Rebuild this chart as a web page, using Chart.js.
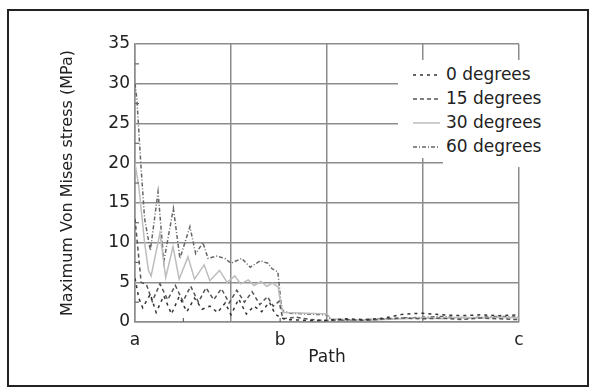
<!DOCTYPE html>
<html>
<head>
<meta charset="utf-8">
<script src="https://cdn.jsdelivr.net/npm/chart.js@4.4.1/dist/chart.umd.min.js"></script>
<style>
    body { margin: 0; background: #fff; }
    #wrap { position: relative; width: 594px; height: 392px; }
    #frame { position: absolute; left: 7px; top: 9px; width: 578px; height: 374px; border: 2px solid #222; }
    canvas { position: absolute; left: 0; top: 0; }
    .cache { position: absolute; background: #fff; }
    #legende { position: absolute; left: 413px; top: 62px; font-family: "DejaVu Sans", sans-serif; font-size: 17px; color: #222; }
    .ligne { height: 24px; line-height: 24px; white-space: nowrap; }
    .ligne svg { vertical-align: middle; margin-right: 6px; }
</style>
</head>
<body>
<div id="wrap">
    <canvas id="graph" width="594" height="392"></canvas>
    <div id="frame"></div>
    <div class="cache" style="left:398px; top:60px; width:172px; height:98px;"></div>
    <div class="cache" style="left:443px; top:150px; width:127px; height:17px;"></div>
    <div id="legende"></div>
</div>
<script>
// ===== DONNÉES =====
// Abscisse : chemin a -> b -> c, ramené de 0 à 100
var xTicks = [0, 25, 37.8, 50, 75, 100];
var xLabels = { 0: 'a', 37.8: 'b', 100: 'c' };
var yTicks = [0, 5, 10, 15, 20, 25, 30, 35];

var seriesNames = ['0 degrees', '15 degrees', '30 degrees', '60 degrees'];

var deg0X = [0, 1, 2, 4, 5.5, 7.5, 9.5, 11.5, 13.5, 15.5, 17.5, 19.5, 21.5, 23.5, 25, 27, 29, 31, 33, 35, 36.5, 38, 40, 45, 50, 55, 60, 65, 70, 75, 80, 85, 90, 95, 100];
var deg0Y = [5.5, 3, 1.8, 3.5, 1.2, 3.3, 1.0, 3.2, 1.3, 3.0, 1.6, 2.0, 1.2, 2.4, 0.9, 2.9, 1.0, 2.0, 1.3, 2.5, 1.0, 0.5, 0.3, 0.2, 0.2, 0.4, 0.3, 0.5, 1.0, 1.1, 0.9, 0.8, 0.9, 0.8, 0.9];

var deg15X = [0, 0.8, 1.6, 3, 4.5, 6.5, 8.5, 10.5, 12.5, 14.5, 16.5, 18.5, 20.5, 22.5, 24.5, 26.5, 28.5, 30.5, 32.5, 34.5, 36, 37.5, 38.5, 42, 46, 50, 55, 60, 65, 70, 75, 80, 85, 90, 95, 100];
var deg15Y = [13, 9, 5, 4.7, 2.6, 4.8, 2.8, 4.6, 2.6, 4.5, 2.5, 4.3, 2.8, 4.2, 2.4, 4.0, 2.5, 3.8, 2.2, 3.2, 2.0, 2.6, 0.4, 0.6, 0.3, 0.2, 0.3, 0.2, 0.4, 0.5, 0.4, 0.5, 0.3, 0.5, 0.4, 0.3];

var deg30X = [0, 1, 2.5, 3.5, 4.2, 6.5, 8, 9.9, 11.5, 13.8, 15.5, 18, 19.5, 22, 24, 26, 27.5, 29.5, 31, 32.8, 34.3, 35.8, 37.3, 38, 38.6, 45, 50, 51, 55, 60, 65, 70, 75, 80, 85, 90, 95, 100];
var deg30Y = [20, 17, 10, 6.5, 5.8, 11.2, 5.6, 9.5, 5.4, 8.2, 5.4, 7.2, 5.2, 6.5, 5.0, 5.8, 4.8, 5.3, 4.6, 5.1, 4.5, 4.9, 4.4, 2.0, 1.2, 1.1, 1.0, 0.4, 0.3, 0.2, 0.3, 0.4, 0.5, 0.4, 0.6, 0.5, 0.6, 0.5];

var deg60X = [0, 0.5, 1.5, 2.5, 4, 6, 7.5, 10, 11.7, 14.3, 15.8, 17.7, 19, 21.4, 23.4, 25, 27.8, 30, 32.6, 34.6, 35.7, 37.2, 38, 38.5, 40.4, 45, 50, 51, 55, 60, 65, 70, 75, 80, 85, 90, 95, 100];
var deg60Y = [30, 28, 20, 13, 9, 16.4, 7.6, 14.3, 8, 12, 8.6, 10, 8, 8.3, 8, 7.4, 8, 6.9, 7.7, 7.4, 6.7, 6.3, 2.5, 1.4, 1.1, 1.0, 0.9, 0.3, 0.2, 0.3, 0.4, 0.5, 0.6, 0.7, 0.5, 0.6, 0.7, 0.6];

// ===== STYLES DES COURBES =====
var couleurs = ['#333', '#555', '#bdbdbd', '#666'];
var pointilles = [[3, 4], [4, 3], [], [4, 2, 1, 2]];

function points(xs, ys) {
    return xs.map(function (x, i) { return { x: x, y: ys[i] }; });
}

var donnees = [points(deg0X, deg0Y), points(deg15X, deg15Y), points(deg30X, deg30Y), points(deg60X, deg60Y)];

var datasets = donnees.map(function (d, i) {
    return {
        label: seriesNames[i],
        data: d,
        borderColor: couleurs[i],
        borderWidth: 1.5,
        borderDash: pointilles[i],
        pointRadius: 0,
        tension: 0,
        fill: false
    };
});

// Petites graduations intérieures (axe Y tous les 2.5, axe X sous a-b)
var petitesGraduations = {
    id: 'petitesGraduations',
    afterDatasetsDraw: function (chart) {
        var ctx = chart.ctx, y = chart.scales.y, x = chart.scales.x;
        ctx.save();
        ctx.strokeStyle = '#666';
        ctx.lineWidth = 1.2;
        for (var v = 2.5; v < 35; v += 5) {
            var py = y.getPixelForValue(v);
            ctx.beginPath(); ctx.moveTo(x.left, py); ctx.lineTo(x.left + 4, py); ctx.stroke();
        }
        [12.6, 37.8].forEach(function (v) {
            var px = x.getPixelForValue(v);
            ctx.beginPath(); ctx.moveTo(px, y.bottom); ctx.lineTo(px, y.bottom - 4); ctx.stroke();
        });
        ctx.restore();
    }
};

var police = { family: '"DejaVu Sans", sans-serif', size: 17 };
var policeTitre = { family: '"DejaVu Sans", sans-serif', size: 16 };
var grille = '#8c8c8c';

new Chart(document.getElementById('graph'), {
    type: 'line',
    data: { datasets: datasets },
    plugins: [petitesGraduations],
    options: {
        responsive: false,
        animation: false,
        layout: { padding: { left: 0, top: 44, right: 75, bottom: 0 } },
        plugins: { legend: { display: false }, tooltip: { enabled: false } },
        scales: {
            x: {
                type: 'linear',
                min: 0,
                max: 100,
                afterBuildTicks: function (scale) {
                    scale.ticks = xTicks.map(function (v) { return { value: v }; });
                },
                afterFit: function (scale) { scale.height = 70; },
                ticks: {
                    autoSkip: false,
                    maxRotation: 0,
                    padding: 8,
                    color: '#222',
                    font: police,
                    callback: function (v) { return xLabels[v] || ''; }
                },
                grid: {
                    drawTicks: false,
                    lineWidth: 1.5,
                    color: function (c) { return c.tick && c.tick.value === 37.8 ? 'rgba(0,0,0,0)' : grille; }
                },
                border: { color: grille, width: 1.5 },
                title: { display: true, text: 'Path', color: '#222', font: police, padding: { top: 0, bottom: 24 } }
            },
            y: {
                min: 0,
                max: 35,
                afterBuildTicks: function (scale) {
                    scale.ticks = yTicks.map(function (v) { return { value: v }; });
                },
                afterFit: function (scale) { scale.width = 135; },
                ticks: { padding: 5, color: '#222', font: police },
                grid: { drawTicks: false, lineWidth: 1.5, color: grille },
                border: { color: grille, width: 1.5 },
                title: { display: true, text: 'Maximum Von Mises stress (MPa)', color: '#222', font: policeTitre, padding: { top: 58, bottom: 0 } }
            }
        }
    }
});

// ===== LÉGENDE (dans le graphique, en haut à droite) =====
var legende = document.getElementById('legende');
seriesNames.forEach(function (nom, i) {
    var dash = pointilles[i].length ? pointilles[i].join(',') : 'none';
    legende.innerHTML += '<div class="ligne"><svg width="27" height="6"><line x1="0" y1="3" x2="27" y2="3" stroke="' +
        couleurs[i] + '" stroke-width="1.5" stroke-dasharray="' + dash + '"/></svg>' + nom + '</div>';
});
</script>
</body>
</html>
